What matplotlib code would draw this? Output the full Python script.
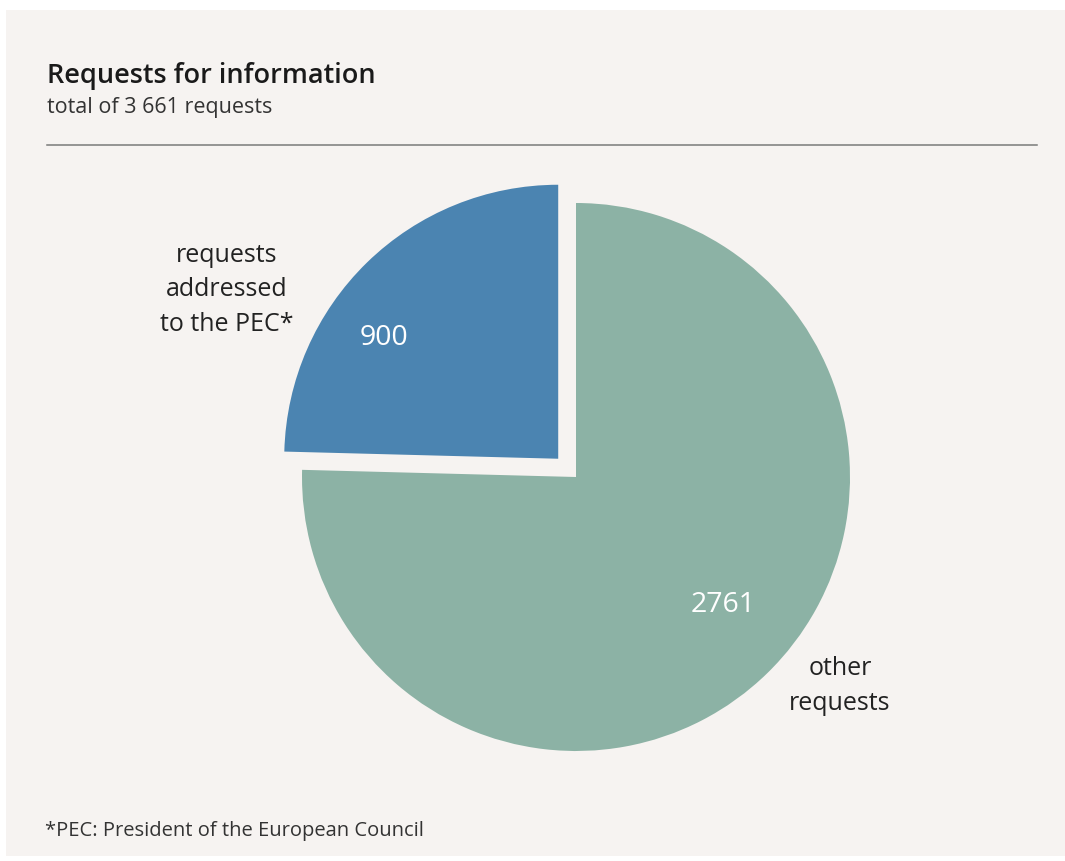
import matplotlib
matplotlib.use("Agg")
import matplotlib.pyplot as plt
from matplotlib.patches import Rectangle
import numpy as np

# request counts
categories = ["requests\naddressed\nto the PEC*", "other\nrequests"]
values = [900, 2761]
colors = ["#4b84b1", "#8cb2a5"]

title = "Requests for information"
subtitle = "total of 3 661 requests"
footnote = "*PEC: President of the European Council"

plt.rcParams["font.family"] = ["Open Sans", "DejaVu Sans"]

W, H = 1065, 861
fig = plt.figure(figsize=(W / 100, H / 100), dpi=100, facecolor="white")

# beige panel behind everything
fig.patches.append(Rectangle((6 / W, 1 - 856 / H), 1 - 6 / W, (856 - 10) / H,
                             transform=fig.transFigure, facecolor="#f6f3f1",
                             edgecolor="none", zorder=-10))

fig.text(47 / W, 1 - 76 / H, title, fontsize=19.5, color="#1a1a1a",
         va="center", ha="left", weight="semibold")
fig.text(47 / W, 1 - 107 / H, subtitle, fontsize=15.5, color="#333333",
         va="center", ha="left")
fig.add_artist(plt.Line2D([47 / W, 1037 / W], [1 - 145 / H, 1 - 145 / H],
                          transform=fig.transFigure, color="#7a7a7a", lw=1.1))
fig.text(45 / W, 1 - 831 / H, footnote, fontsize=14.5, color="#333333",
         va="center", ha="left")

# pie centred at (576, 477) px, radius 274 px
r = 274
cx, cy = 576, H - 477
ax = fig.add_axes([(cx - 1.2 * r) / W, (cy - 1.2 * r) / H, 2.4 * r / W, 2.4 * r / H])
ax.axis("off")

wedges, _ = ax.pie(values, colors=colors, startangle=90, counterclock=True,
                   explode=[0.093, 0], radius=1,
                   wedgeprops=dict(linewidth=0))
ax.set_xlim(-1.2, 1.2)
ax.set_ylim(-1.2, 1.2)

# value labels inside wedges
val_pos = [(144.0, 0.865), (-41.0, 0.71)]
for v, (ang, d) in zip(values, val_pos):
    a = np.deg2rad(ang)
    ax.text(d * np.cos(a), d * np.sin(a), str(v), color="white", fontsize=20.5,
            ha="center", va="center")

# category labels outside
cat_pos = [(-349 / r, 187 / r), (264 / r, -209 / r)]
for c, (x, y) in zip(categories, cat_pos):
    ax.text(x, y, c, color="#222222", fontsize=18, ha="center", va="center",
            linespacing=1.5)

fig.savefig("out.png", dpi=100, facecolor=fig.get_facecolor())
